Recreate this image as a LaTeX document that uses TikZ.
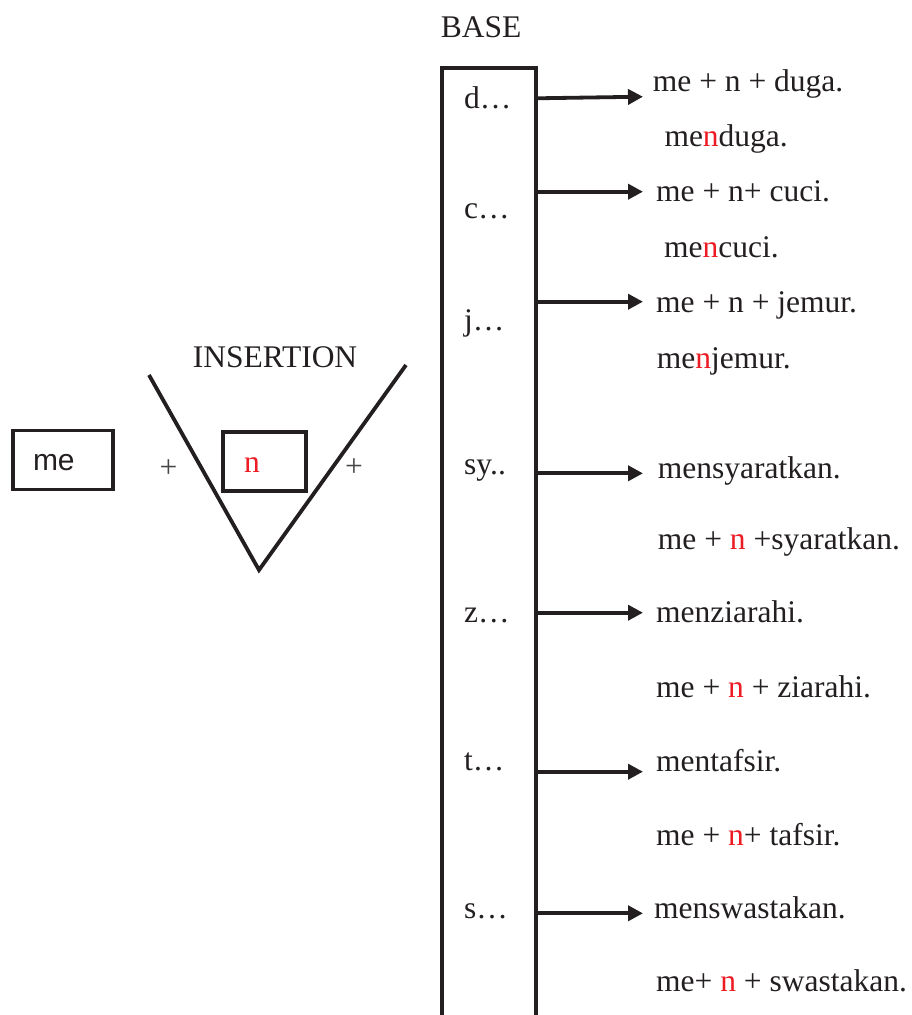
\documentclass[tikz,border=0pt]{standalone}
\usepackage{fontspec}
\setmainfont{Liberation Serif}
\setsansfont{Liberation Sans}
\usepackage{xcolor}
\usepackage{tikz}
\usetikzlibrary{arrows.meta, positioning}
\definecolor{ink}{RGB}{35, 31, 32}
\definecolor{insertred}{RGB}{237, 28, 36}
\definecolor{plusgrey}{RGB}{70, 70, 70}
\newcommand{\insn}[1]{\textcolor{insertred}{#1}}
\tikzset{
  font=\fontsize{31.5pt}{36pt}\selectfont,
  wordtext/.style={anchor=base west, inner sep=0pt, text=ink},
  rootletter/.style={anchor=base west, inner sep=0pt, text=ink},
  headtext/.style={anchor=base west, inner sep=0pt, text=ink},
  affixbox/.style={
    rectangle, draw=ink, line width=3.8pt, text=ink,
    minimum height=59pt, inner ysep=0pt, align=left
  },
  plussign/.style={inner sep=0pt, text=plusgrey},
  vline/.style={draw=ink, line width=3.8pt},
  basecolumn/.style={draw=ink, line width=3.8pt},
  flowline/.style={
    draw=ink, line width=3.8pt, -{Triangle[length=15pt, width=15pt]}
  }
}

\begin{document}
\begin{tikzpicture}[x=1pt, y=-1pt]

  \useasboundingbox (0,0) rectangle (912,1015);

  % Prefix and infix
  \node[affixbox, font=\sffamily\fontsize{30pt}{36pt}\selectfont,
        text width=60pt, inner xsep=20pt] (mebox) at (63,460) {\raisebox{-10pt}[0pt][0pt]{me}};
  \node[plussign] (plusleft) at (168.5,469) {+};
  \node[affixbox, text width=41pt, inner xsep=21pt] (nbox) at (264.5,461.5) {\raisebox{-11pt}[0pt][0pt]{\insn{n}}};
  \node[plussign] (plusright) at (354,468) {+};

  % Insertion wedge
  \node[headtext] (insertion) at (192.7,367.3) {INSERTION};
  \coordinate (vleft) at (149,375);
  \coordinate (vtip) at (259,570);
  \coordinate (vright) at (406,365);
  \draw[vline] (vleft) -- (vtip) -- (vright);

  % Base column
  \node[headtext] (basehead) at (440.7,37.3) {BASE};
  \draw[basecolumn] (442,1020) -- (442,67.7) -- (536,67.7) -- (536,1020);

  \node[rootletter] (droot) at (464,108) {d…};
  \node[rootletter] (croot) at (464,218) {c…};
  \node[rootletter] (jroot) at (464,330) {j…};
  \node[rootletter] (syroot) at (464,474.3) {sy..};
  \node[rootletter] (zroot) at (464,622) {z…};
  \node[rootletter] (troot) at (464,770) {t…};
  \node[rootletter] (sroot) at (464,918.3) {s…};

  % Derived words
  \node[wordtext] (dform) at (652.7,91.7) {me + n + duga.};
  \node[wordtext] (dword) at (664.3,146.7) {me\insn{n}duga.};
  \node[wordtext] (cform) at (656,201.7) {me + n+ cuci.};
  \node[wordtext] (cword) at (664,257.7) {me\insn{n}cuci.};
  \node[wordtext] (jform) at (656,312.7) {me + n + jemur.};
  \node[wordtext] (jword) at (656.7,368.3) {me\insn{n}jemur.};
  \node[wordtext] (syword) at (657.7,478.3) {mensyaratkan.};
  \node[wordtext] (syform) at (657.7,549.3) {me + \insn{n} +syaratkan.};
  \node[wordtext] (zword) at (656,622) {menziarahi.};
  \node[wordtext] (zform) at (656,697.7) {me + \insn{n} + ziarahi.};
  \node[wordtext] (tword) at (656,771.7) {mentafsir.};
  \node[wordtext] (tform) at (656,845.7) {me + \insn{n}+ tafsir.};
  \node[wordtext] (sword) at (654,918.3) {menswastakan.};
  \node[wordtext] (sform) at (656,991.7) {me+ \insn{n} + swastakan.};

  % Arrow ends
  \coordinate (dout) at (536,98.3);   \coordinate (din) at (643,96.7);
  \coordinate (cout) at (536,191.7);  \coordinate (cin) at (643,191.7);
  \coordinate (jout) at (536,301.7);  \coordinate (jin) at (643,301.7);
  \coordinate (syout) at (536,473.3); \coordinate (syin) at (643,473.3);
  \coordinate (zout) at (536,612.7);  \coordinate (zin) at (643,612.7);
  \coordinate (tout) at (536,771.7);  \coordinate (tin) at (643,771.7);
  \coordinate (sout) at (536,913.3);  \coordinate (sin) at (643,913.3);

  % Connecting flows
  \draw[flowline] (dout) -- (din);
  \draw[flowline] (cout) -- (cin);
  \draw[flowline] (jout) -- (jin);
  \draw[flowline] (syout) -- (syin);
  \draw[flowline] (zout) -- (zin);
  \draw[flowline] (tout) -- (tin);
  \draw[flowline] (sout) -- (sin);

\end{tikzpicture}
\end{document}
